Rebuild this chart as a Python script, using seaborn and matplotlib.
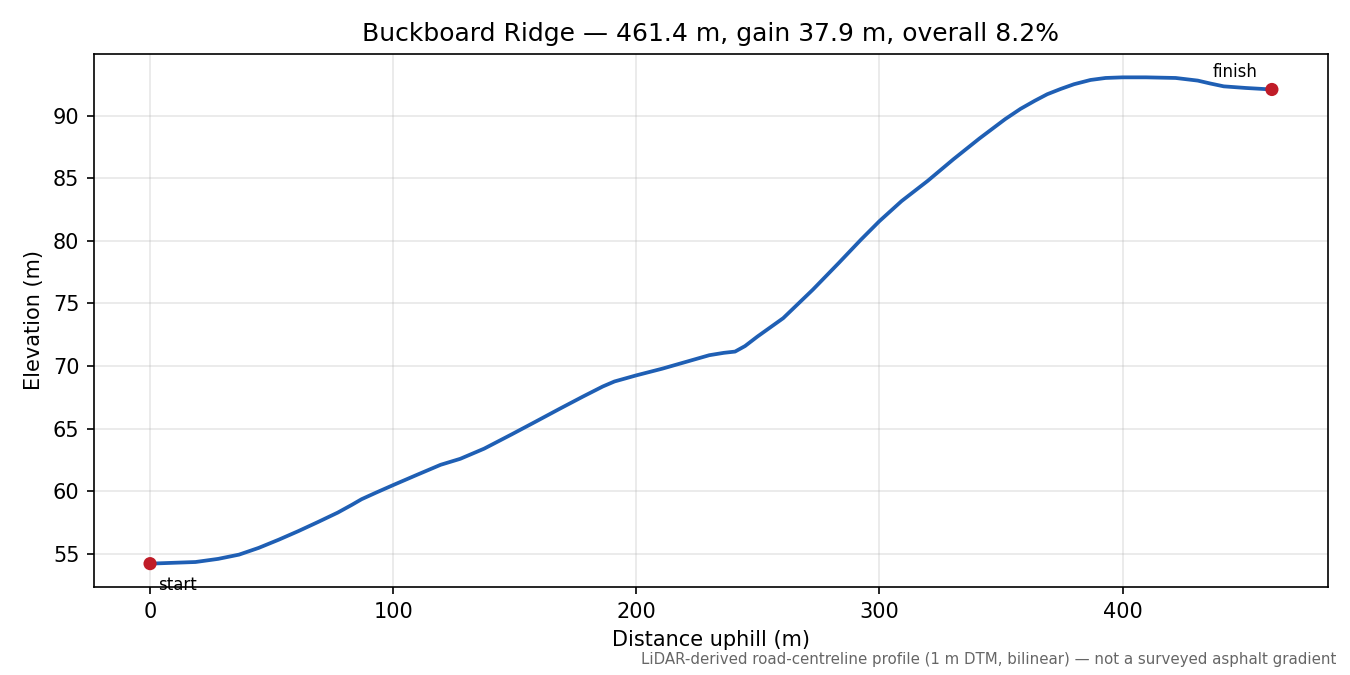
import matplotlib
matplotlib.use("Agg")
import matplotlib.pyplot as plt
import seaborn as sns
import pandas as pd

# Perfil de elevação
distance_m = [0, 10.0, 18.7, 28.0, 36.6, 44.7, 53.0, 61.0, 69.0, 77.2, 83.0, 87.0,
              93.0, 100.0, 109.8, 119.5, 127.6, 137.4, 148.8, 158.5, 168.3, 178.0,
              186.2, 191.0, 200.0, 210.6, 220.3, 230.0, 236.0, 240.6, 244.7, 249.8,
              260.4, 272.6, 283.3, 292.4, 300.0, 309.1, 319.8, 330.4, 341.1, 351.7,
              358.0, 363.9, 369.0, 374.5, 380.0, 386.8, 393.0, 400.0, 409.6, 421.8,
              430.9, 436.0, 441.6, 450.7, 461.4]
elevation_m = [54.2, 54.27, 54.33, 54.58, 54.92, 55.46, 56.12, 56.8, 57.52, 58.28,
               58.9, 59.35, 59.88, 60.48, 61.3, 62.1, 62.58, 63.39, 64.54, 65.54,
               66.56, 67.55, 68.36, 68.76, 69.25, 69.78, 70.32, 70.86, 71.05, 71.15,
               71.59, 72.35, 73.82, 76.1, 78.24, 80.1, 81.58, 83.18, 84.79, 86.52,
               88.18, 89.73, 90.55, 91.2, 91.72, 92.14, 92.52, 92.86, 93.02, 93.07,
               93.07, 93.02, 92.81, 92.58, 92.35, 92.22, 92.1]

title = "Buckboard Ridge \u2014 461.4 m, gain 37.9 m, overall 8.2%"
note = ("LiDAR-derived road-centreline profile (1 m DTM, bilinear) "
        "\u2014 not a surveyed asphalt gradient")

line_color = "#1f5fb4"
dot_color = "#c01c28"

df = pd.DataFrame({"dist": distance_m, "elev": elevation_m})
ends = df.iloc[[0, -1]]

fig, ax = plt.subplots(figsize=(9, 4.5), dpi=150)
fig.subplots_adjust(left=0.0696, right=0.9837, top=0.92, bottom=0.1304)

sns.lineplot(data=df, x="dist", y="elev", color=line_color, linewidth=1.8, ax=ax)
sns.scatterplot(data=ends, x="dist", y="elev", color=dot_color, s=40,
                edgecolor="none", zorder=5, ax=ax)

ax.annotate("start", (ends["dist"].iloc[0], ends["elev"].iloc[0]),
            xytext=(4, -6), textcoords="offset points",
            ha="left", va="top", fontsize=8)
ax.annotate("finish", (ends["dist"].iloc[1], ends["elev"].iloc[1]),
            xytext=(-7, 4), textcoords="offset points",
            ha="right", va="bottom", fontsize=8)

ax.margins(x=0.05, y=0.048)
ax.grid(True, alpha=0.3)
ax.set_xlabel("Distance uphill (m)")
ax.set_ylabel("Elevation (m)")
ax.set_title(title)

fig.text(0.99, 0.012, note, ha="right", va="bottom", fontsize=7.2, color="#666666")

fig.savefig("out.png", dpi=150)
